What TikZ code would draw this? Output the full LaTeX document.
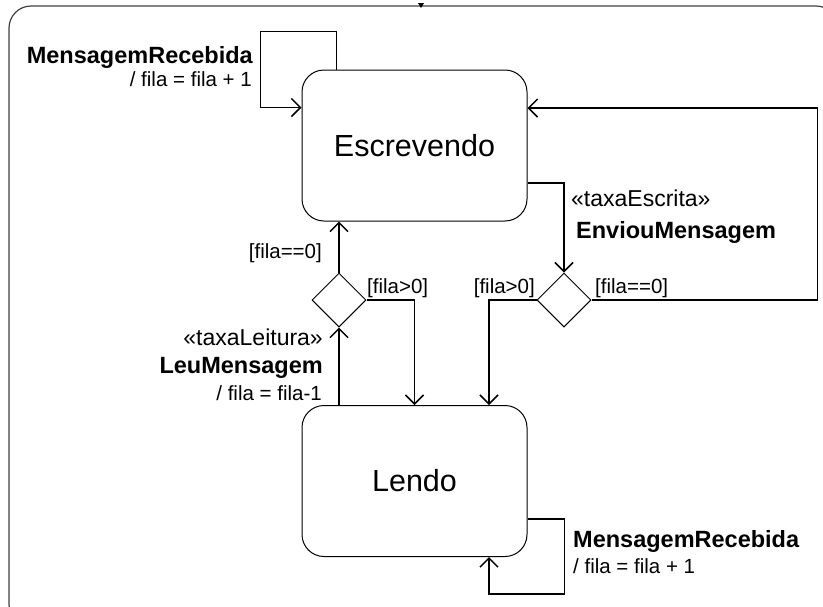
\documentclass[tikz,border=0pt]{standalone}
\usepackage{fontspec}
\setmainfont{Liberation Sans}
\usetikzlibrary{positioning}
\usetikzlibrary{shapes.geometric, arrows.meta}

\begin{document}
\begin{tikzpicture}[x=1pt,y=-1pt,
  estado/.style={draw,rectangle,rounded corners=22pt,line width=1pt,minimum width=225pt,minimum height=151pt,inner sep=0pt,font=\fontsize{30.5}{36}\selectfont},
  decisao/.style={draw,diamond,minimum width=54pt,minimum height=54pt,inner sep=0pt,line width=1pt},
  trans/.style={line width=1.5pt,-{Straight Barb[length=9pt,width=18pt,line width=1.5pt]}},
  evento/.style={inner sep=0pt,font=\fontsize{23.5}{28}\selectfont\bfseries},
  estereo/.style={inner sep=0pt,font=\fontsize{23}{28}\selectfont},
  efeito/.style={inner sep=0pt,font=\fontsize{20.5}{24}\selectfont}]
\useasboundingbox (0,0) rectangle (823,606);
\begin{scope}
\clip (0,0) rectangle (823,606);
\draw[black!75,line width=1.2pt,rounded corners=22pt] (9,6) rectangle (838,626);
\end{scope}
\fill (418,3) -- (424,3) -- (421,8) -- cycle;

\node[estado] (esc) at (414.5,145.5) {Escrevendo};
\node[estado] (lendo) at (414.5,481) {Lendo};
\node[decisao] (d1) at (339,300) {};
\node[decisao] (d2) at (564,300) {};

% transicoes
\draw[trans] ([xshift=35pt]esc.north west) -- ++(0,-38) -| ([xshift=-41pt,yshift=38pt]esc.west) -- ([yshift=38pt]esc.west);
\draw[trans] ([yshift=-37.5pt]esc.east) -| (d2.north);
\draw[trans] (d2.east) -- ++(226,0) |- ([yshift=37.5pt]esc.east);
\draw[trans] (d2.west) -| ([xshift=74.5pt]lendo.north);
\draw[trans] (d1.north) -- (d1.north |- esc.south);
\draw[trans] (d1.east) -| (lendo.north);
\draw[trans] (lendo.north -| d1.south) -- (d1.south);
\draw[trans] ([yshift=-38pt]lendo.east) -- ++(37,0) -- ++(0,75) -| ([xshift=74.5pt]lendo.south);

% rotulos
\node[evento,anchor=base east] (recebeE) at (253,63) {MensagemRecebida};
\node[efeito,anchor=base east] (somaE) at (252,86) {/ fila = fila + 1};
\node[estereo,anchor=base west] (taxaE) at (571,206) {«taxaEscrita»};
\node[evento,anchor=base west] (envia) at (576,238) {EnviouMensagem};
\node[efeito,anchor=base east] (g1) at (322,258) {[fila==0]};
\node[efeito,anchor=base west] (g2) at (367,293) {[fila>0]};
\node[efeito,anchor=base east] (g3) at (535,293) {[fila>0]};
\node[efeito,anchor=base west] (g4) at (595,293) {[fila==0]};
\node[estereo,anchor=base east] (taxaL) at (323,345) {«taxaLeitura»};
\node[evento,anchor=base east] (leu) at (323,373) {LeuMensagem};
\node[efeito,anchor=base east] (subL) at (322,400) {/ fila = fila-1};
\node[evento,anchor=base west] (recebeL) at (573,547) {MensagemRecebida};
\node[efeito,anchor=base west] (somaL) at (573,573) {/ fila = fila + 1};
\end{tikzpicture}
\end{document}
